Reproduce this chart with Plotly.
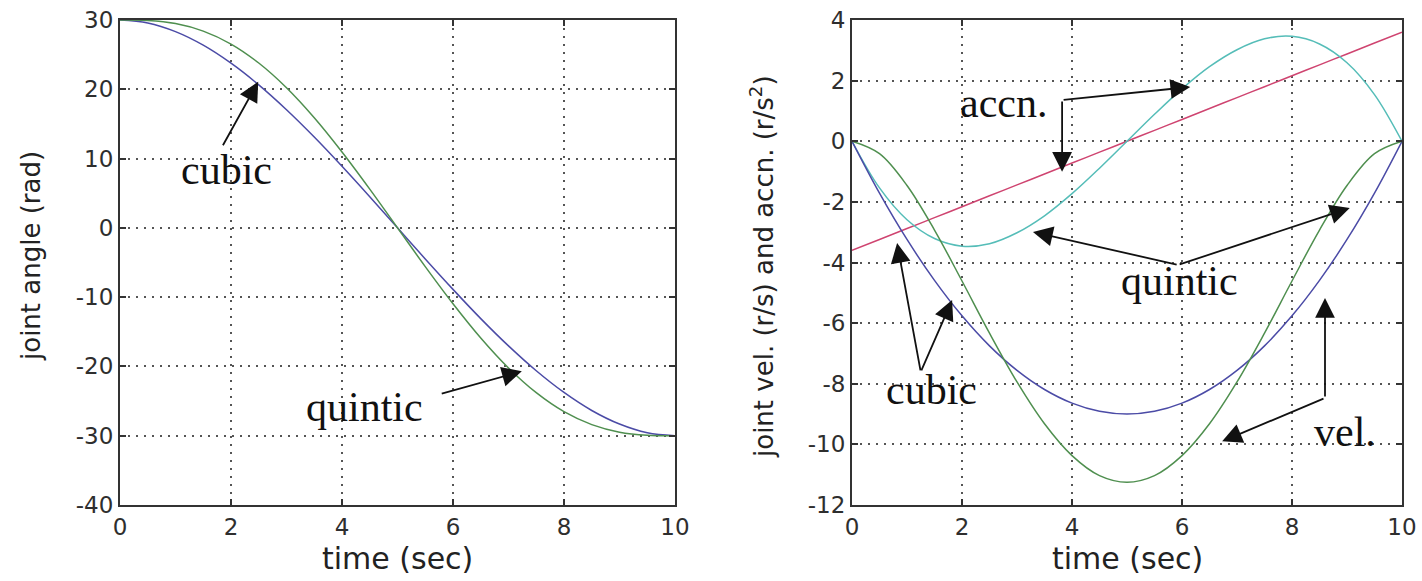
import plotly.graph_objects as go

# ---- data ----
t = [0, 0.5, 1, 1.5, 2, 2.5, 3, 3.5, 4, 4.5, 5, 5.5, 6, 6.5, 7, 7.5, 8, 8.5, 9, 9.5, 10]
cubic_angle = [30, 29.57, 28.32, 26.36, 23.76, 20.63, 17.04, 13.10, 8.88, 4.49, 0,
               -4.49, -8.88, -13.10, -17.04, -20.63, -23.76, -26.36, -28.32, -29.57, -30]
quintic_angle = [30, 29.93, 29.49, 28.40, 26.53, 23.79, 20.22, 15.89, 10.95, 5.59, 0,
                 -5.59, -10.95, -15.89, -20.22, -23.79, -26.53, -28.40, -29.49, -29.93, -30]
cubic_vel = [0, -1.71, -3.24, -4.59, -5.76, -6.75, -7.56, -8.19, -8.64, -8.91, -9.0,
             -8.91, -8.64, -8.19, -7.56, -6.75, -5.76, -4.59, -3.24, -1.71, 0]
quintic_vel = [0, -0.41, -1.46, -2.93, -4.61, -6.33, -7.94, -9.32, -10.37, -11.03, -11.25,
               -11.03, -10.37, -9.32, -7.94, -6.33, -4.61, -2.93, -1.46, -0.41, 0]
cubic_acc = [-3.6, -3.24, -2.88, -2.52, -2.16, -1.8, -1.44, -1.08, -0.72, -0.36, 0,
             0.36, 0.72, 1.08, 1.44, 1.8, 2.16, 2.52, 2.88, 3.24, 3.6]
quintic_acc = [0, -1.54, -2.59, -3.21, -3.46, -3.38, -3.02, -2.46, -1.73, -0.89, 0,
               0.89, 1.73, 2.46, 3.02, 3.38, 3.46, 3.21, 2.59, 1.54, 0]

x_ticks = [0, 2, 4, 6, 8, 10]
left_y_ticks = [-40, -30, -20, -10, 0, 10, 20, 30]
right_y_ticks = [-12, -10, -8, -6, -4, -2, 0, 2, 4]

BLUE = "#4b4ba6"
GREEN = "#4f8f4f"
CYAN = "#55bdb8"
RED = "#cf4470"

fig = go.Figure()

def line(x, y, color, xa, ya):
    fig.add_trace(go.Scatter(x=x, y=y, mode="lines", line=dict(color=color, width=1.5, shape="spline"),
                             xaxis=xa, yaxis=ya, showlegend=False, hoverinfo="skip"))

line(t, cubic_angle, BLUE, "x", "y")
line(t, quintic_angle, GREEN, "x", "y")
line(t, cubic_acc, RED, "x2", "y2")
line(t, quintic_acc, CYAN, "x2", "y2")
line(t, cubic_vel, BLUE, "x2", "y2")
line(t, quintic_vel, GREEN, "x2", "y2")

tick_font = dict(family="DejaVu Sans", size=23, color="#2e2e2e")
axis_common = dict(showline=True, linecolor="#333333", linewidth=2, mirror="ticks",
                   ticks="inside", ticklen=6, tickcolor="#333333", tickwidth=1.5,
                   showgrid=True, gridcolor="#555555", gridwidth=1.6, griddash="2px,6px",
                   zeroline=False, tickfont=tick_font, automargin=False)

def labels(vals):
    return [str(v) for v in vals]

W, H = 1422, 581
top, bottom = 20, 76

fig.update_layout(
    width=W, height=H,
    margin=dict(l=0, r=0, t=top, b=bottom, pad=0),
    paper_bgcolor="white", plot_bgcolor="white",
    xaxis=dict(domain=[120 / W, 675 / W], range=[0, 10], tickvals=x_ticks, ticktext=labels(x_ticks),
               anchor="y", **axis_common),
    yaxis=dict(domain=[0, 1], range=[-40, 30], tickvals=left_y_ticks, ticktext=labels(left_y_ticks),
               anchor="x", **axis_common),
    xaxis2=dict(domain=[852 / W, 1402 / W], range=[0, 10], tickvals=x_ticks, ticktext=labels(x_ticks),
                anchor="y2", **axis_common),
    yaxis2=dict(domain=[0, 1], range=[-12, 4], tickvals=right_y_ticks, ticktext=labels(right_y_ticks),
                anchor="x2", **axis_common),
)

title_font = dict(family="DejaVu Sans", size=30, color="#222222")
ylab_font = dict(family="DejaVu Sans", size=26, color="#222222")
ph = H - top - bottom
def py(pix):
    return (H - bottom - pix) / ph

anns = [
    dict(text="time (sec)", x=397.5 / W, y=py(558), xref="paper", yref="paper", showarrow=False,
         font=title_font, xanchor="center", yanchor="middle"),
    dict(text="time (sec)", x=1127 / W, y=py(558), xref="paper", yref="paper", showarrow=False,
         font=title_font, xanchor="center", yanchor="middle"),
    dict(text="joint angle (rad)", x=31 / W, y=py(256), xref="paper", yref="paper", showarrow=False,
         font=ylab_font, textangle=-90, xanchor="center", yanchor="middle"),
    dict(text="joint vel. (r/s) and accn. (r/s<sup>2</sup>)", x=762 / W, y=py(267), xref="paper", yref="paper",
         showarrow=False, font=ylab_font, textangle=-90, xanchor="center", yanchor="middle"),
]

serif = dict(family="Liberation Serif", size=42, color="#111111")

def label(text, x, y, xr, yr):
    anns.append(dict(text=text, x=x, y=y, xref=xr, yref=yr, showarrow=False, font=serif,
                     xanchor="center", yanchor="middle"))

def arrow(tip_x, tip_y, tail_x, tail_y, xr, yr):
    anns.append(dict(text="", x=tip_x, y=tip_y, ax=tail_x, ay=tail_y, xref=xr, yref=yr,
                     axref=xr, ayref=yr, showarrow=True, arrowhead=2, arrowsize=2.2,
                     arrowwidth=1.8, arrowcolor="#111111", standoff=0, startstandoff=0))

# left plot
label("cubic", 1.91, 8.4, "x", "y")
arrow(2.49, 21.1, 1.84, 11.7, "x", "y")
label("quintic", 4.41, -25.9, "x", "y")
arrow(7.24, -20.7, 5.77, -24.0, "x", "y")

# right plot
label("accn.", 2.75, 1.26, "x2", "y2")
arrow(6.15, 1.79, 3.82, 1.36, "x2", "y2")
arrow(3.82, -1.01, 3.82, 1.36, "x2", "y2")
label("quintic", 5.96, -4.6, "x2", "y2")
arrow(3.29, -2.99, 5.93, -4.08, "x2", "y2")
arrow(9.05, -2.2, 5.93, -4.08, "x2", "y2")
label("cubic", 1.45, -8.2, "x2", "y2")
arrow(0.82, -3.36, 1.25, -7.61, "x2", "y2")
arrow(1.82, -5.24, 1.25, -7.61, "x2", "y2")
label("vel.", 8.96, -9.6, "x2", "y2")
arrow(8.6, -5.17, 8.6, -8.47, "x2", "y2")
arrow(6.73, -9.9, 8.6, -8.47, "x2", "y2")

fig.update_layout(annotations=anns)

fig.write_html("out.html", config={"displayModeBar": False},
               post_script="document.body.style.margin='0px';document.body.style.overflow='hidden';")
